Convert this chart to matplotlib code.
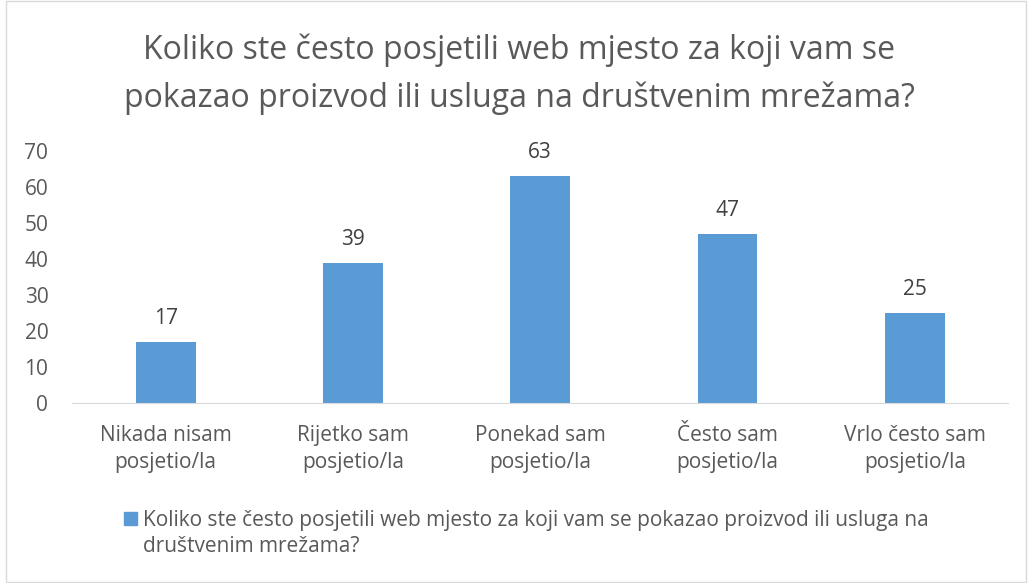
import matplotlib.pyplot as plt
from matplotlib.patches import Rectangle

categories = ['Nikada nisam\nposjetio/la', 'Rijetko sam\nposjetio/la', 'Ponekad sam\nposjetio/la',
              'Često sam\nposjetio/la', 'Vrlo često sam\nposjetio/la']
values = [17, 39, 63, 47, 25]
title = 'Koliko ste često posjetili web mjesto za koji vam se\npokazao proizvod ili usluga na društvenim mrežama?'
series_name = 'Koliko ste često posjetili web mjesto za koji vam se pokazao proizvod ili usluga na\ndruštvenim mrežama?'

plt.rcParams['font.family'] = ['Open Sans', 'DejaVu Sans']
grey = '#595959'
blue = '#5b9bd5'

fig = plt.figure(figsize=(10.28, 5.83), dpi=100)
fig.patches.append(Rectangle((0.006, 0.002), 0.992, 0.996, transform=fig.transFigure,
                             fill=False, edgecolor='#d9d9d9', linewidth=1))
ax = fig.add_axes([0.070, 0.309, 0.911, 0.432])

x = range(len(categories))
bars = ax.bar(x, values, width=0.32, color=blue)
for b, v in zip(bars, values):
    ax.text(b.get_x() + b.get_width() / 2, v + 3.6, str(v), ha='center', va='bottom',
            fontsize=15, color='#404040')

ax.set_xlim(-0.5, len(categories) - 0.5)
ax.set_ylim(0, 70)
ax.set_yticks(range(0, 71, 10))
ax.set_xticks(list(x))
ax.set_xticklabels(categories, fontsize=15, color=grey, linespacing=1.4)
ax.tick_params(axis='y', labelsize=15, labelcolor=grey, length=0, pad=17)
ax.tick_params(axis='x', length=0, pad=16)
for s in ['top', 'right', 'left']:
    ax.spines[s].set_visible(False)
ax.spines['bottom'].set_color('#d9d9d9')

fig.text(0.505, 0.873, title, ha='center', va='center', fontsize=23, color=grey, linespacing=1.55)

fig.patches.append(Rectangle((0.1205, 0.1), 0.0125, 0.022, transform=fig.transFigure,
                             color=blue))
fig.text(0.139, 0.085, series_name, ha='left', va='center', fontsize=15, color=grey,
         linespacing=1.3)

fig.savefig('out.png', dpi=100)
